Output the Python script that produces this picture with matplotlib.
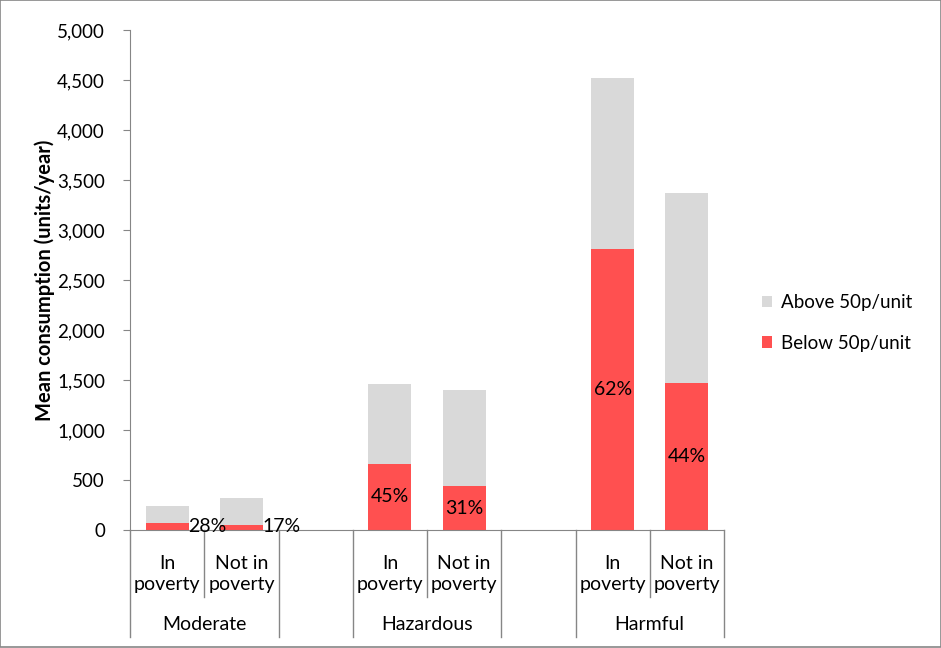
import matplotlib
matplotlib.use("Agg")
import matplotlib.pyplot as plt
from matplotlib.patches import Rectangle
from matplotlib.lines import Line2D
import matplotlib.transforms as mtransforms

plt.rcParams['font.family'] = ['Lato', 'DejaVu Sans']

groups = ["Moderate", "Hazardous", "Harmful"]
subcats = ["In\npoverty", "Not in\npoverty"]
below = [70, 50, 660, 440, 2810, 1470]
above = [170, 270, 800, 960, 1710, 1900]
pct_labels = ["28%", "17%", "45%", "31%", "62%", "44%"]
yticks = [0, 500, 1000, 1500, 2000, 2500, 3000, 3500, 4000, 4500, 5000]

RED = "#FF5050"
GRAY = "#D9D9D9"
AXC = "#868686"
FS = 13.5

fig = plt.figure(figsize=(9.41, 6.48), dpi=100)
ax = fig.add_axes([130/941, 118/648, 594/941, 500/648])

# positions: 8 categories with a blank one between groups
positions = []
for g in range(len(groups)):
    for s in range(len(subcats)):
        positions.append(g * 3 + s)

ax.bar(positions, below, width=0.58, color=RED, label="Below 50p/unit", zorder=2)
ax.bar(positions, above, bottom=below, width=0.58, color=GRAY, label="Above 50p/unit", zorder=2)

ax.set_xlim(-0.5, 7.5)
ax.set_ylim(0, 5000)
ax.set_yticks(yticks)
ax.set_yticklabels([f"{v:,}" for v in yticks], fontsize=FS)
ax.tick_params(axis='y', direction='out', length=5, color=AXC, pad=13)
ax.set_xticks([])
for sp in ['top', 'right']:
    ax.spines[sp].set_visible(False)
for sp in ['left', 'bottom']:
    ax.spines[sp].set_color(AXC)
ax.set_ylabel("Mean consumption (units/year)", fontsize=14.5, fontweight='bold', labelpad=1.5)

# percentage labels
for i, (p, b, lab) in enumerate(zip(positions, below, pct_labels)):
    if b < 200:
        ax.text(p + 0.28, 40, lab, ha='left', va='center', fontsize=14, zorder=3)
    else:
        ax.text(p, b / 2, lab, ha='center', va='center', fontsize=14, zorder=3)

# multi-level category axis
trans = mtransforms.blended_transform_factory(ax.transData, ax.transAxes)
full = -107 / 500
short = -67 / 500
for g in range(len(groups)):
    start = g * 3 - 0.5
    for s in range(len(subcats)):
        p = g * 3 + s
        ax.text(p, -0.05, subcats[s], transform=trans, ha='center', va='top',
                fontsize=14, linespacing=1.3)
    ax.text(g * 3 + 0.5, -0.188, groups[g], transform=trans, ha='center', va='center',
            fontsize=14)
    ax.add_line(Line2D([start, start], [0, full], transform=trans, color=AXC,
                       lw=1, clip_on=False))
    ax.add_line(Line2D([start + 1, start + 1], [0, short], transform=trans, color=AXC,
                       lw=1, clip_on=False))
    ax.add_line(Line2D([start + 2, start + 2], [0, full], transform=trans, color=AXC,
                       lw=1, clip_on=False))

# legend
handles, labels = ax.get_legend_handles_labels()
leg = fig.legend(handles[::-1], labels[::-1], loc='center left',
                 bbox_to_anchor=(745/941, 1 - 323/648), frameon=False,
                 fontsize=13.5, handlelength=0.55, handleheight=0.55,
                 handletextpad=0.45, labelspacing=1.25)

# figure border
fig.patches.append(Rectangle((0.0005, 0.0008), 0.999, 0.9985, transform=fig.transFigure,
                             fill=False, edgecolor=AXC, lw=1.2))

fig.savefig("out.png", dpi=100)
